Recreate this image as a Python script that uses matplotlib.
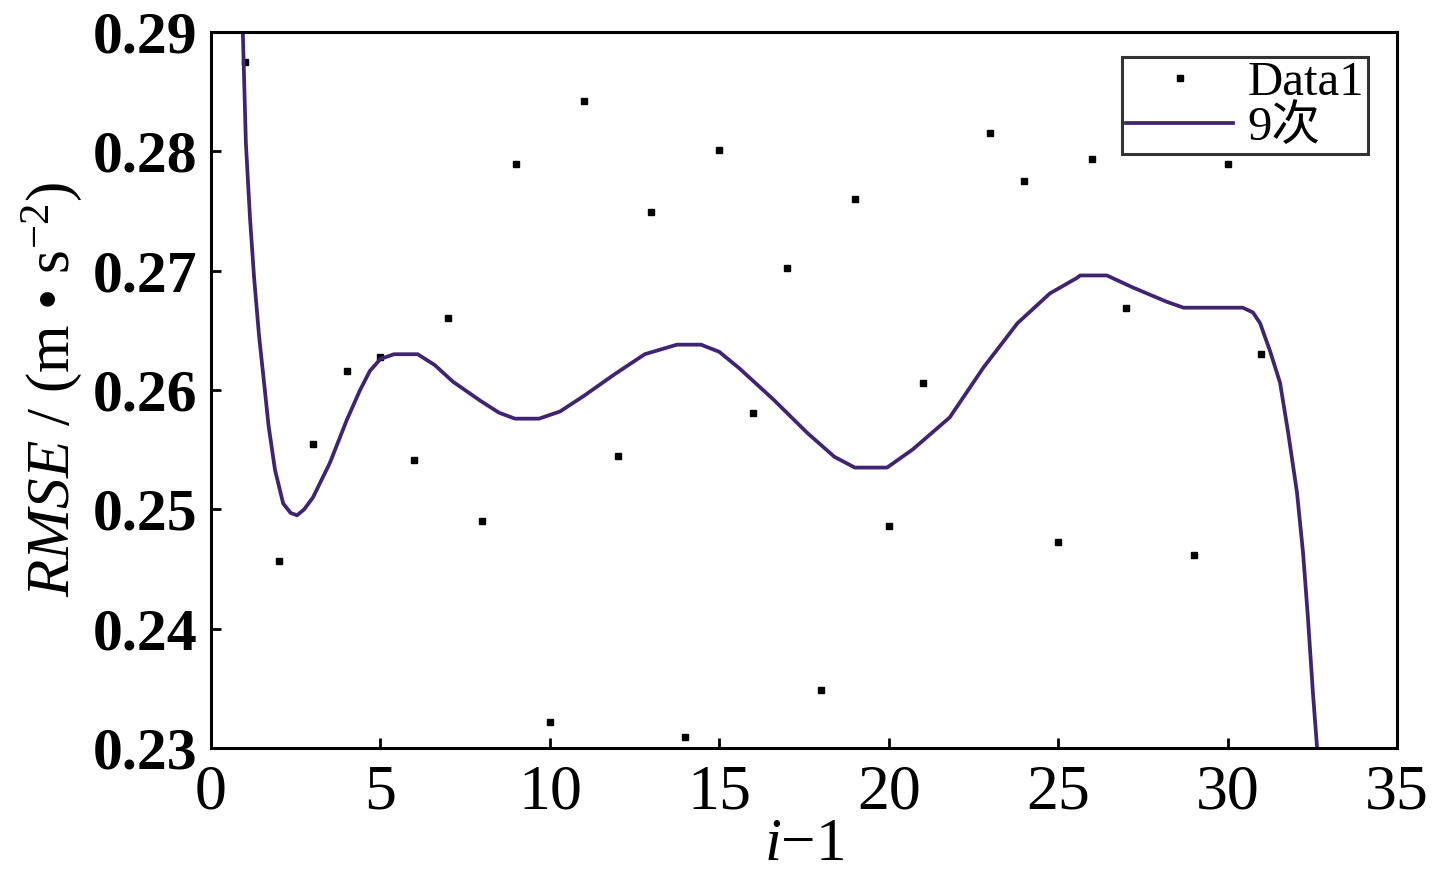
import matplotlib
matplotlib.use("Agg")
import matplotlib.pyplot as plt

# Scatter data (Data1)
data_x = [1, 2, 3, 4, 5, 6, 7, 8, 9, 10, 11, 12, 13, 14, 15, 16, 17, 18, 19, 20, 21,
          23, 24, 25, 26, 27, 29, 30, 31]
data_y = [0.2875, 0.2457, 0.2555, 0.2616, 0.2628, 0.2541, 0.2660, 0.2490, 0.2789, 0.2322,
          0.2842, 0.2545, 0.2749, 0.2309, 0.2801, 0.2581, 0.2702, 0.2349, 0.2760, 0.2486,
          0.2606, 0.2815, 0.2775, 0.2473, 0.2794, 0.2669, 0.2462, 0.2789, 0.2630]

# 9th-order fit curve
fit_x = [0.94, 1.03, 1.15, 1.27, 1.42, 1.56, 1.70, 1.89, 2.13, 2.35, 2.54, 2.75, 3.01,
         3.51, 4.01, 4.40, 4.69, 5.0, 5.4, 6.1, 6.6, 7.14, 7.95, 8.5, 8.97, 9.68, 10.3,
         11.0, 11.9, 12.8, 13.75, 14.46, 15.0, 15.6, 16.6, 17.6, 18.4, 19.0, 19.95, 20.7,
         21.8, 22.8, 23.8, 24.76, 25.56, 25.65, 26.44, 27.2, 28.2, 28.7, 30.45, 30.75,
         30.96, 31.25, 31.55, 31.79, 32.05, 32.23, 32.37, 32.52, 32.64, 32.66]
fit_y = [0.2900, 0.2807, 0.2745, 0.2695, 0.2645, 0.2608, 0.2570, 0.2533, 0.2505, 0.2497,
         0.2495, 0.2500, 0.2510, 0.2539, 0.2575, 0.2600, 0.2616, 0.2626, 0.2630, 0.2630,
         0.2621, 0.2607, 0.2591, 0.2581, 0.2576, 0.2576, 0.2582, 0.2595, 0.2613, 0.2630,
         0.2638, 0.2638, 0.2632, 0.2618, 0.2592, 0.2564, 0.2544, 0.2535, 0.2535, 0.2550,
         0.2577, 0.2619, 0.2656, 0.2681, 0.2694, 0.2696, 0.2696, 0.2686, 0.2674, 0.2669,
         0.2669, 0.2665, 0.2656, 0.2633, 0.2606, 0.2564, 0.2514, 0.2463, 0.2410, 0.2346,
         0.2301, 0.2298]

x_ticks = [0, 5, 10, 15, 20, 25, 30, 35]
y_ticks = [0.23, 0.24, 0.25, 0.26, 0.27, 0.28, 0.29]
y_tick_labels = ["0.23", "0.24", "0.25", "0.26", "0.27", "0.28", "0.29"]

serif = ["Liberation Serif", "Noto Sans CJK SC", "DejaVu Serif"]
plt.rcParams["font.family"] = serif
plt.rcParams["mathtext.fontset"] = "custom"
plt.rcParams["mathtext.rm"] = "Liberation Serif"
plt.rcParams["mathtext.it"] = "Liberation Serif:italic"

fig = plt.figure(figsize=(14.46, 8.82), dpi=100)
ax = fig.add_axes([0.1459, 0.1519, 0.8202, 0.8118])

ax.plot(data_x, data_y, linestyle="none", marker="s", markersize=4.5,
        color="black", label="Data1")
ax.plot(fit_x, fit_y, color="#3f2472", linewidth=2.7, label="9次")

ax.set_xlim(0, 35)
ax.set_ylim(0.23, 0.29)
ax.set_xticks(x_ticks)
ax.set_yticks(y_ticks)
ax.set_yticklabels(y_tick_labels)
ax.tick_params(direction="in", length=7, width=2, pad=10)
ax.tick_params(axis="x", labelsize=46, pad=12)
ax.tick_params(axis="y", labelsize=43)
for lab in ax.get_yticklabels():
    lab.set_fontweight("bold")
for sp in ax.spines.values():
    sp.set_linewidth(2.2)

ax.set_xlabel(r"$i$" + "\u22121", fontsize=44, labelpad=-4)
ax.set_ylabel(r"$RMSE$ / (m • s$^{-2}$)", fontsize=44, labelpad=6)

leg = ax.legend(loc="upper right", bbox_to_anchor=(1368 / 1446, 1 - 57 / 882),
                bbox_transform=fig.transFigure, fontsize=35, frameon=True,
                fancybox=False, edgecolor="black", handlelength=2.2,
                handletextpad=0.3, borderpad=0.08, labelspacing=0.0,
                borderaxespad=0.0, markerscale=1.0)
leg.get_frame().set_linewidth(2.2)

fig.savefig("out.png", dpi=100, facecolor="white")
